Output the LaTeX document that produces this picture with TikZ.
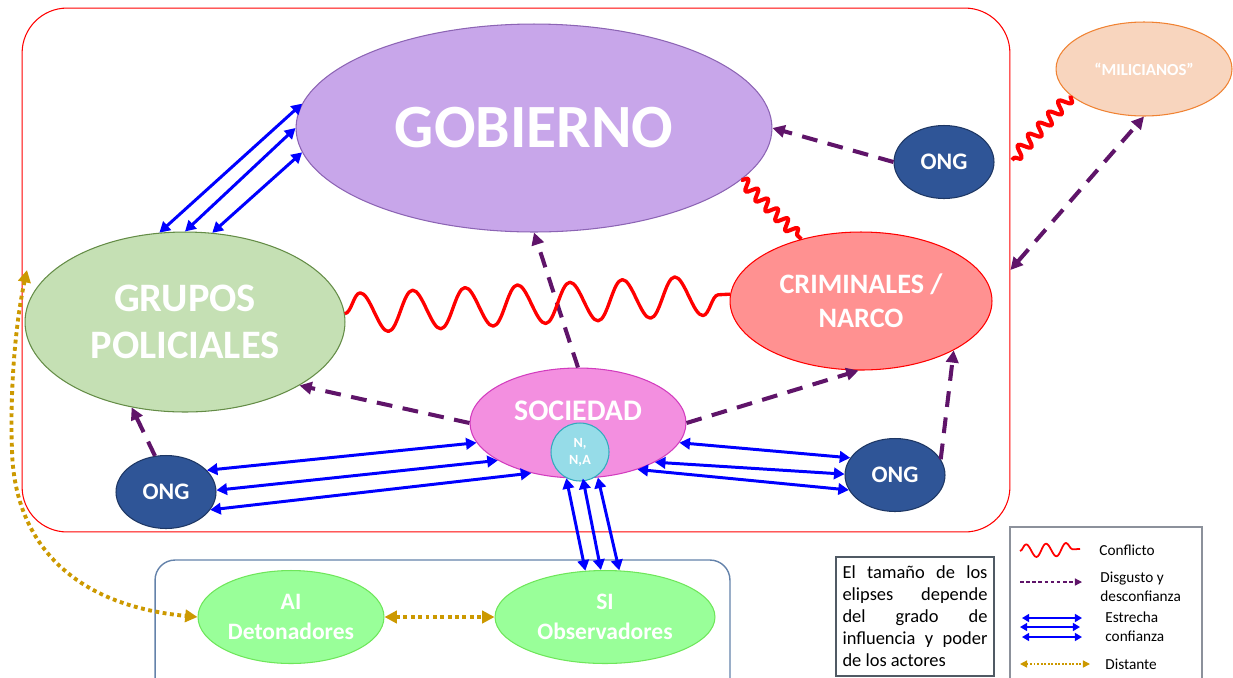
\documentclass[tikz,border=0pt]{standalone}
\usepackage{fontspec}
\setmainfont{Carlito}
\usetikzlibrary{shapes.geometric,arrows.meta,decorations.pathmorphing}
\definecolor{gobfill}{RGB}{200,166,234}
\definecolor{gobline}{RGB}{140,100,180}
\definecolor{grpfill}{RGB}{197,224,180}
\definecolor{grpline}{RGB}{100,140,70}
\definecolor{crimfill}{RGB}{255,145,145}
\definecolor{socfill}{RGB}{243,143,224}
\definecolor{socline}{RGB}{210,60,190}
\definecolor{nnafill}{RGB}{150,220,232}
\definecolor{nnaline}{RGB}{50,170,190}
\definecolor{ongfill}{RGB}{47,85,151}
\definecolor{ongline}{RGB}{30,55,100}
\definecolor{milfill}{RGB}{248,213,190}
\definecolor{milline}{RGB}{240,130,50}
\definecolor{sifill}{RGB}{153,255,153}
\definecolor{siline}{RGB}{110,230,90}
\definecolor{slate}{RGB}{100,130,170}
\definecolor{dpurple}{RGB}{95,20,105}
\definecolor{gold}{RGB}{204,153,0}
\definecolor{boxline}{RGB}{80,90,100}
\definecolor{legline}{RGB}{140,145,155}
\begin{document}
\begin{tikzpicture}[x=0.02cm,y=-0.02cm,
  ell/.style={ellipse, draw, inner sep=0pt, align=center, text=white, line width=0.6pt},
  ong/.style={ell, fill=ongfill, draw=ongline, minimum width=2cm, minimum height=1.46cm, font=\fontsize{13.5}{16}\selectfont\bfseries},
  trust/.style={draw=blue, line width=1.7pt, {Triangle[length=6pt,width=6.5pt]}-{Triangle[length=6pt,width=6.5pt]}},
  distrust/.style={draw=dpurple, line width=2.3pt, dash pattern=on 9pt off 6pt, -{Triangle[length=7pt,width=7pt]}},
  conflict/.style={draw=red, line join=round, decorate},
  distant/.style={draw=gold, line width=2.2pt, dash pattern=on 2.2pt off 2pt, {Triangle[length=7pt,width=7pt]}-{Triangle[length=7pt,width=7pt]}},
  legtext/.style={anchor=west, align=left, font=\fontsize{8.7}{11}\selectfont, inner sep=0pt}
]
\useasboundingbox (0,0) rectangle (1233,677);
\clip (0,0) rectangle (1233,677);

% frames
\node[draw=red, line width=0.6pt, rounded corners=0.9cm, minimum width=19.76cm, minimum height=10.48cm, inner sep=0pt] (frame) at (516,270) {};
\node[draw=slate, line width=0.8pt, rounded corners=0.4cm, minimum width=11.5cm, minimum height=3.2cm, inner sep=0pt] (lowbox) at (442.5,640) {};

% actors
\node[ell, fill=gobfill, draw=gobline, minimum width=9.52cm, minimum height=4.16cm, font=\fontsize{35}{40}\selectfont\bfseries] (gob) at (534,128) {GOBIERNO};
\node[ell, fill=grpfill, draw=grpline, minimum width=6.4cm, minimum height=3.6cm, font=\fontsize{23}{26.6}\selectfont\bfseries] (grp) at (185,322) {GRUPOS\\POLICIALES};
\node[ell, fill=crimfill, draw=red, minimum width=5.24cm, minimum height=2.76cm, font=\fontsize{16}{19.3}\selectfont\bfseries] (crim) at (861,301) {CRIMINALES /\\NARCO};
\node[ell, fill=socfill, draw=socline, minimum width=4.32cm, minimum height=2.2cm, font=\fontsize{17}{20}\selectfont\bfseries] (soc) at (578,423) {\raisebox{6.8pt}[\height][\depth]{SOCIEDAD}};
\node[circle, draw=nnaline, fill=nnafill, line width=0.6pt, minimum size=1.16cm, inner sep=0pt, align=center, text=white, font=\fontsize{8}{9.6}\selectfont\bfseries] (nna) at (580,452) {N,\\N,A};
\node[ong] (onga) at (944,162) {ONG};
\node[ong] (ongb) at (166,492) {ONG};
\node[ong] (ongc) at (895,475) {ONG};
\node[ell, fill=milfill, draw=milline, minimum width=3.52cm, minimum height=1.88cm, font=\fontsize{9.6}{11}\selectfont\bfseries] (mil) at (1144,69) {“MILICIANOS”};
\node[ell, fill=sifill, draw=siline, minimum width=3.72cm, minimum height=1.86cm, font=\fontsize{13.4}{17}\selectfont\bfseries] (ai) at (291,617) {AI\\Detonadores};
\node[ell, fill=sifill, draw=siline, minimum width=4.4cm, minimum height=1.86cm, font=\fontsize{13.4}{17}\selectfont\bfseries] (si) at (605,617) {SI\\Observadores};

% note box
\node[draw=boxline, line width=0.7pt, minimum width=3.16cm, minimum height=2.38cm, inner sep=0pt, align=left, font=\fontsize{10.5}{12.5}\selectfont] (note) at (915,616.5)
 {\makebox[2.9cm][s]{El tamaño de los}\\\makebox[2.9cm][s]{elipses depende}\\\makebox[2.9cm][s]{del grado de}\\\makebox[2.9cm][s]{influencia y poder}\\\makebox[2.9cm][l]{de los actores}};

% trust
\draw[trust] (grp.106) -- (gob.174);
\draw[trust] (grp.90) -- (gob.180);
\draw[trust] (grp.73) -- (gob.186);
\draw[trust] (ongb.28) -- (soc.-169);
\draw[trust] (ongb.2) -- (soc.-155);
\draw[trust] (ongb.-22) -- (soc.-133);
\draw[trust] (soc.-11) -- (ongc.159);
\draw[trust] (soc.-27.5) -- (ongc.179);
\draw[trust] (soc.-38) -- (ongc.198);
\draw[trust] (soc.-102.5) -- (si.113.5);
\draw[trust] (soc.-85.8) -- (si.95);
\draw[trust] (soc.-70) -- (si.73);

% distrust
\draw[distrust] (onga.west) -- (gob.east);
\draw[distrust] (soc.north) -- (gob.south);
\draw[distrust] (soc.west) -- (grp.-29);
\draw[distrust] (soc.east) -- (crim.-92);
\draw[distrust] (ongb.107) -- (grp.-122);
\draw[distrust] (ongc.19) -- (crim.-28);
\draw[distrust, {Triangle[length=7pt,width=7pt]}-{Triangle[length=7pt,width=7pt]}] (frame.east) -- (mil.south);

% conflict
\draw[conflict, line width=2.3pt, decoration={snake, amplitude=0.11cm, segment length=0.28cm}] (gob.-14) -- (crim.134);
\draw[conflict, line width=1.9pt, decoration={snake, amplitude=0.4cm, segment length=1.05cm}] (grp.3) -- (crim.177);
\coordinate (fr1) at (1012,160);
\draw[conflict, line width=2.3pt, decoration={snake, amplitude=0.12cm, segment length=0.3cm}] (mil.-160) -- (fr1);

% distant
\draw[distant] (ai.east) -- (si.west);
\coordinate (gtop) at (27,270);
\draw[distant] (gtop) .. controls (14,330) and (10,400) .. (12,450) .. controls (14,540) and (70,605) .. (ai.west);

% legend
\node[draw=legline, line width=0.7pt, minimum width=3.84cm, minimum height=3.4cm, inner sep=0pt] (leg) at (1106,612) {};
\coordinate (l1a) at (1020,551); \coordinate (l1b) at (1080,549);
\draw[conflict, line width=1pt, decoration={snake, amplitude=0.13cm, segment length=0.4cm}] (l1a) -- (l1b);
\node[legtext] (t1) at (1099,550) {Conflicto};
\coordinate (l2a) at (1020,582); \coordinate (l2b) at (1082,582);
\draw[draw=dpurple, line width=0.7pt, dash pattern=on 2pt off 1.5pt, -{Triangle[length=4pt,width=4pt]}] (l2a) -- (l2b);
\node[legtext] (t2) at (1100,587) {Disgusto y\\desconfianza};
\coordinate (l3a) at (1022,618); \coordinate (l3b) at (1082,618);
\coordinate (l4a) at (1020,627); \coordinate (l4b) at (1080,627);
\coordinate (l5a) at (1022,637); \coordinate (l5b) at (1082,637);
\draw[draw=blue, line width=0.9pt, {Triangle[length=4pt,width=4.5pt]}-{Triangle[length=4pt,width=4.5pt]}] (l3a) -- (l3b);
\draw[draw=blue, line width=0.9pt, {Triangle[length=4pt,width=4.5pt]}-{Triangle[length=4pt,width=4.5pt]}] (l4a) -- (l4b);
\draw[draw=blue, line width=0.9pt, {Triangle[length=4pt,width=4.5pt]}-{Triangle[length=4pt,width=4.5pt]}] (l5a) -- (l5b);
\node[legtext] (t3) at (1105,627) {Estrecha\\confianza};
\coordinate (l6a) at (1020,664); \coordinate (l6b) at (1090,664);
\draw[draw=gold, line width=0.8pt, dash pattern=on 1pt off 1pt, {Triangle[length=4pt,width=4pt]}-{Triangle[length=4pt,width=4pt]}] (l6a) -- (l6b);
\node[legtext] (t4) at (1105,664) {Distante};
\end{tikzpicture}
\end{document}
